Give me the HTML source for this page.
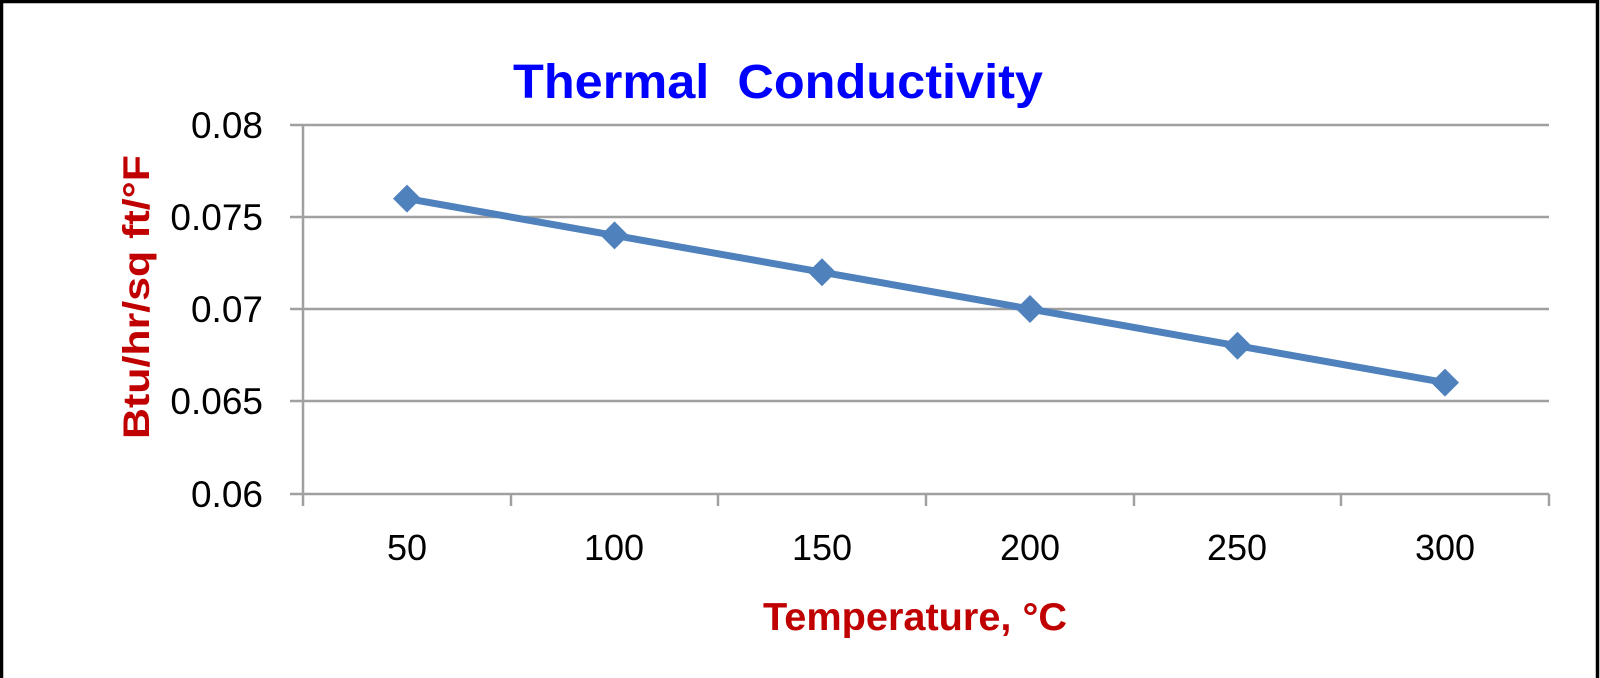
<!DOCTYPE html>
<html><head><meta charset="utf-8"><style>
html,body{margin:0;padding:0;background:#fff;}
svg{display:block;}
</style></head><body>
<svg width="1600" height="678" viewBox="0 0 1600 678" xmlns="http://www.w3.org/2000/svg" font-family="Liberation Sans, sans-serif">
<rect x="0" y="0" width="1600" height="678" fill="#fff"/>
<path d="M1.5,690 V1.5 H1597.5 V690" fill="none" stroke="#000" stroke-width="3.5"/>
<text x="513" y="98" font-size="48" font-weight="bold" fill="#0000ff" textLength="530" lengthAdjust="spacingAndGlyphs" xml:space="preserve">Thermal  Conductivity</text>
<g stroke="#a0a0a0" stroke-width="2.5" fill="none">
<line x1="290" y1="125" x2="1549" y2="125"/>
<line x1="290" y1="217" x2="1549" y2="217"/>
<line x1="290" y1="309" x2="1549" y2="309"/>
<line x1="290" y1="401" x2="1549" y2="401"/>
<line x1="290" y1="494" x2="1549" y2="494"/>
<line x1="303" y1="125" x2="303" y2="506"/>
<line x1="511" y1="494" x2="511" y2="506"/>
<line x1="718" y1="494" x2="718" y2="506"/>
<line x1="926" y1="494" x2="926" y2="506"/>
<line x1="1134" y1="494" x2="1134" y2="506"/>
<line x1="1341" y1="494" x2="1341" y2="506"/>
<line x1="1549" y1="494" x2="1549" y2="506"/>
</g>
<g font-size="37" fill="#000" text-anchor="end">
<text x="263" y="138">0.08</text>
<text x="263" y="230">0.075</text>
<text x="263" y="322">0.07</text>
<text x="263" y="414">0.065</text>
<text x="263" y="507">0.06</text>
</g>
<g font-size="36" fill="#000" text-anchor="middle">
<text x="407" y="560">50</text>
<text x="614" y="560">100</text>
<text x="822" y="560">150</text>
<text x="1030" y="560">200</text>
<text x="1237" y="560">250</text>
<text x="1445" y="560">300</text>
</g>
<text x="763" y="630" font-size="39" font-weight="bold" fill="#c00000" textLength="304" lengthAdjust="spacingAndGlyphs">Temperature, °C</text>
<text transform="translate(149,439) rotate(-90)" font-size="37" font-weight="bold" fill="#c00000" textLength="284" lengthAdjust="spacingAndGlyphs">Btu/hr/sq ft/°F</text>
<polyline points="407,198.6 614.5,235.4 822,272.2 1030,309 1237.5,345.8 1445,382.6" fill="none" stroke="#4f81bd" stroke-width="7"/>
<g fill="#4f81bd">
<polygon points="407,184.6 421,198.6 407,212.6 393,198.6"/>
<polygon points="614.5,221.4 628.5,235.4 614.5,249.4 600.5,235.4"/>
<polygon points="822,258.2 836,272.2 822,286.2 808,272.2"/>
<polygon points="1030,295 1044,309 1030,323 1016,309"/>
<polygon points="1237.5,331.8 1251.5,345.8 1237.5,359.8 1223.5,345.8"/>
<polygon points="1445,368.6 1459,382.6 1445,396.6 1431,382.6"/>
</g>
</svg>
</body></html>
